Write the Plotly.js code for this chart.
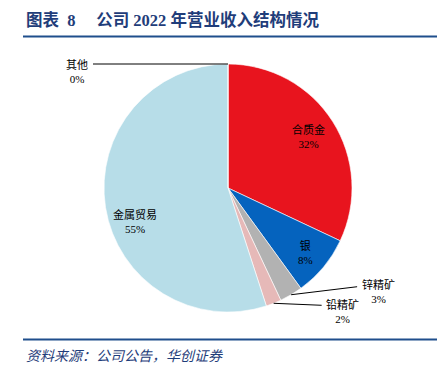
<!DOCTYPE html>
<html><head><meta charset="utf-8">
<script src="https://cdn.plot.ly/plotly-3.0.1.min.js"></script>
<style>html,body{margin:0;padding:0;background:#fff}</style>
</head><body>
<div id="chart" style="width:446px;height:376px"></div>
<script>
// ---- data ----
const categories = ['合质金', '银', '锌精矿', '铅精矿', '金属贸易', '其他'];
const shares = [32, 8, 3, 2, 55, 0];
const sliceColors = ['#E8141E', '#0563BE', '#B2B2B2', '#E6B9B8', '#B7DDE8', '#7F7F7F'];
const titleText = '图表&nbsp;&nbsp;8&nbsp;&nbsp;&nbsp;&nbsp;&nbsp;公司 2022 年营业收入结构情况';
const sourceText = '资料来源：公司公告，华创证券';

// ---- layout geometry (pixels) ----
const W = 446, H = 376;
const cx = 228, cy = 188, R = 124;
const px = x => x / W, py = y => 1 - y / H;
const labelFont = {family: 'Liberation Serif, Noto Sans CJK SC, serif', size: 11, color: '#000'};
const navy = '#1F3D7A';

// label placement style: inside (radius fraction, optional angle) or outside (elbow/text offsets)
const placement = {
  '合质金': {inside: true, r: 0.77},
  '银': {inside: true, r: 0.81},
  '金属贸易': {inside: true, r: 0.8, a: 250},
  '锌精矿': {inside: false, ex: 66, ey: -8, tx: 87, ty: -19},
  '铅精矿': {inside: false, ex: 48, ey: 2, tx: 69, ty: -7},
  '其他': {inside: false, ex: -135, ey: 0, tx: -151, ty: -7}
};

const total = shares.reduce((a, b) => a + b, 0);
let cum = 0;
const annotations = [], shapes = [];
categories.forEach((c, i) => {
  const mid = (cum + shares[i] / 2) / total * 360;
  cum += shares[i];
  const p = placement[c];
  const txt = c + '<br>' + shares[i] + '%';
  if (p.inside) {
    const ang = (p.a !== undefined ? p.a : mid) * Math.PI / 180;
    const x = cx + R * p.r * Math.sin(ang), y = cy - R * p.r * Math.cos(ang);
    annotations.push({xref: 'paper', yref: 'paper', x: px(x), y: py(y), text: txt,
      showarrow: false, xanchor: 'center', yanchor: 'middle', font: labelFont});
  } else {
    const ang = mid * Math.PI / 180;
    const x0 = cx + R * Math.sin(ang), y0 = cy - R * Math.cos(ang);
    const x1 = x0 + p.ex, y1 = y0 + p.ey;
    shapes.push({type: 'line', xref: 'paper', yref: 'paper', x0: px(x0), y0: py(y0), x1: px(x1), y1: py(y1),
      line: {color: '#000', width: 1}});
    annotations.push({xref: 'paper', yref: 'paper', x: px(x0 + p.tx), y: py(y0 + p.ty), text: txt,
      showarrow: false, xanchor: 'center', yanchor: 'top', font: labelFont});
  }
});

// header/footer rules
shapes.push({type: 'line', xref: 'paper', yref: 'paper', x0: px(23), x1: px(437), y0: py(36.5), y1: py(36.5),
  line: {color: '#1F4E8C', width: 2}});
shapes.push({type: 'line', xref: 'paper', yref: 'paper', x0: px(23), x1: px(437), y0: py(339.5), y1: py(339.5),
  line: {color: '#1F4E8C', width: 2}});

annotations.push({xref: 'paper', yref: 'paper', x: px(24), y: py(20), xanchor: 'left', yanchor: 'middle',
  showarrow: false, text: '<b>' + titleText + '</b>',
  font: {family: 'Liberation Serif, Noto Sans CJK SC, serif', size: 16.5, color: navy}});
annotations.push({xref: 'paper', yref: 'paper', x: px(24), y: py(356), xanchor: 'left', yanchor: 'middle',
  showarrow: false, text: '<i>' + sourceText + '</i>',
  font: {family: 'Liberation Serif, Noto Sans CJK SC, serif', size: 14, color: navy}});

const trace = {
  type: 'pie',
  labels: categories,
  values: shares,
  sort: false,
  direction: 'clockwise',
  rotation: 0,
  textinfo: 'none',
  hoverinfo: 'label+percent',
  marker: {colors: sliceColors, line: {color: '#fff', width: 0.6}},
  domain: {x: [px(cx - R), px(cx + R)], y: [py(cy + R), py(cy - R)]},
  showlegend: false
};

Plotly.newPlot('chart', [trace], {
  width: W, height: H,
  margin: {l: 0, r: 0, t: 0, b: 0},
  paper_bgcolor: '#fff',
  showlegend: false,
  annotations: annotations,
  shapes: shapes
}, {displayModeBar: false, staticPlot: true});
</script>
</body></html>
